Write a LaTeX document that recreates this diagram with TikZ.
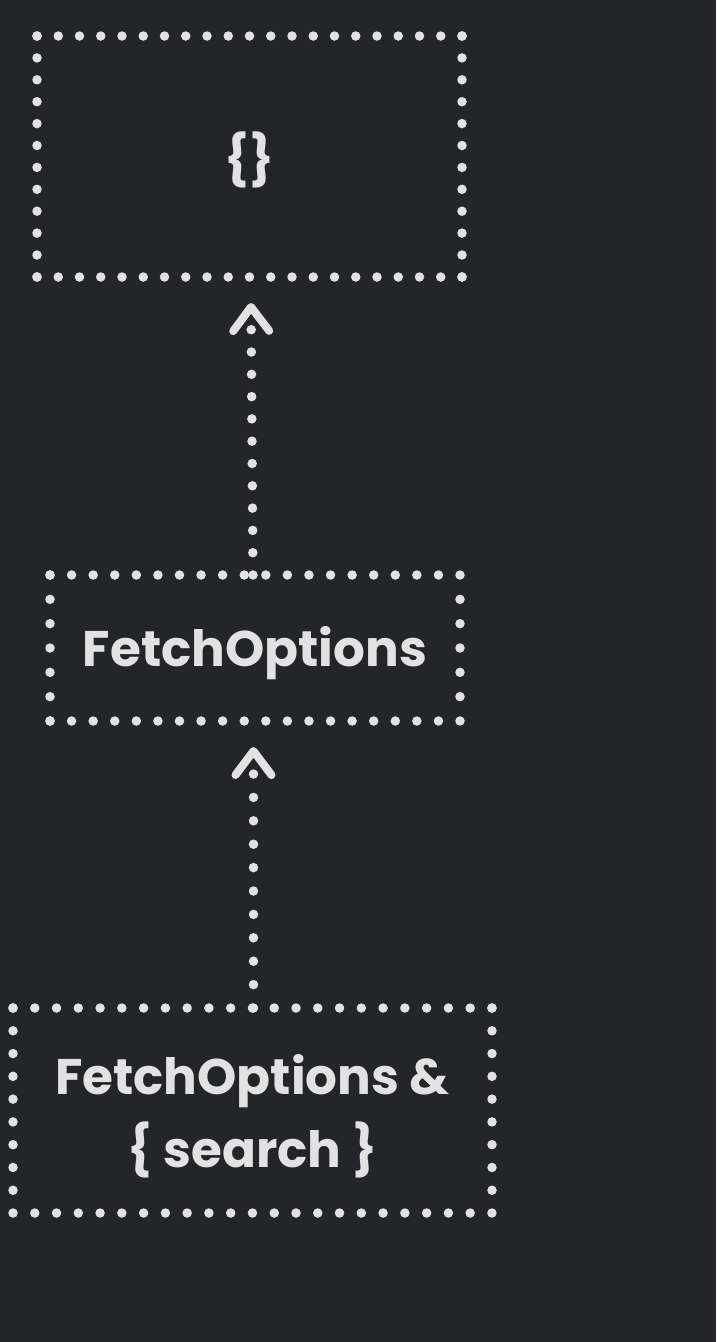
\documentclass[tikz,border=0pt]{standalone}
\usepackage{fontspec}
\setmainfont{Poppins}
\usetikzlibrary{arrows.meta}
\definecolor{bg}{HTML}{232529}
\definecolor{ink}{HTML}{E2E2E2}
\newcommand{\lowered}[2]{\raisebox{-#1}[\height][\depth]{#2}}
\tikzset{
  box/.style={draw=none, inner sep=0pt, outer sep=0pt, text=ink, align=center,
    font=\fontsize{50}{73}\selectfont\bfseries},
  dotrow/.style={draw=ink, line width=9.5pt, line cap=round, dash pattern=on 0pt off #1},
  conn/.style={draw=ink, line width=9.5pt, line cap=round, dash pattern=on 0pt off #1,
    -{Straight Barb[length=24pt,width=36pt,line width=8pt,round]}},
}
\begin{document}
\begin{tikzpicture}[x=1pt,y=-1pt]
\fill[bg] (0,0) rectangle (716,1342);
\useasboundingbox (0,0) rectangle (716,1342);
% boxes
\node[box, minimum width=425pt, minimum height=241pt] (b1) at (249.5,156.5) {\lowered{3pt}{\{\}}};
\node[box, minimum width=410pt, minimum height=146pt] (b2) at (255,648) {\lowered{5pt}{FetchOptions}};
\node[box, minimum width=479pt, minimum height=205pt] (b3) at (252.5,1110.5) {\lowered{6pt}{FetchOptions \&}\\\lowered{6pt}{\{ search \}}};
% dotted borders
\draw[dotrow=21.25pt] (b1.north west) -- (b1.north east);
\draw[dotrow=21.25pt] (b1.south west) -- (b1.south east);
\draw[dotrow=21.9pt] (b1.north west) -- (b1.south west);
\draw[dotrow=21.9pt] (b1.north east) -- (b1.south east);
\draw[dotrow=21.58pt] (b2.north west) -- (b2.north east);
\draw[dotrow=21.58pt] (b2.south west) -- (b2.south east);
\draw[dotrow=24.33pt] (b2.north west) -- (b2.south west);
\draw[dotrow=24.33pt] (b2.north east) -- (b2.south east);
\draw[dotrow=21.77pt] (b3.north west) -- (b3.north east);
\draw[dotrow=21.77pt] (b3.south west) -- (b3.south east);
\draw[dotrow=22.78pt] (b3.north west) -- (b3.south west);
\draw[dotrow=22.78pt] (b3.north east) -- (b3.south east);
% connectors
\coordinate (s1) at (253,575);
\coordinate (t1) at (251,303);
\coordinate (s2) at (253.5,1008);
\coordinate (t2) at (253.5,747);
\draw[conn=22.3pt] (s1) -- (t1);
\draw[conn=23.4pt] (s2) -- (t2);
\end{tikzpicture}
\end{document}
